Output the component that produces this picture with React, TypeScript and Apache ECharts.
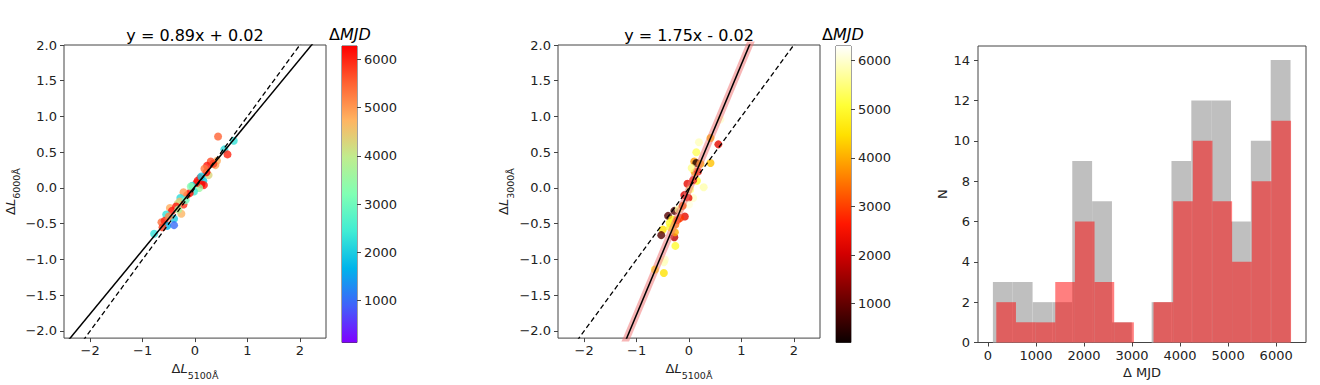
import React, { useEffect, useRef } from "react";
import * as echarts from "echarts";

// ---------- data ----------
// panel 1: [ΔL5100, ΔL6000, ΔMJD]
const scatter1: number[][] = [
  [0.44, 0.72, 5500], [0.74, 0.66, 2300], [0.56, 0.54, 2200], [0.62, 0.47, 6000],
  [0.42, 0.38, 4800], [0.39, 0.32, 4900], [0.30, 0.37, 5700], [0.23, 0.31, 6100],
  [0.26, 0.18, 4300], [0.22, 0.22, 6200], [0.10, 0.14, 6200], [0.16, 0.10, 2000],
  [0.17, 0.04, 6100], [0.12, 0.05, 6250], [0.08, 0.00, 3500], [0.03, 0.07, 6000],
  [-0.05, 0.03, 2100], [-0.02, -0.05, 2400], [-0.10, -0.07, 6200], [-0.15, -0.10, 6000],
  [-0.22, -0.06, 5000], [-0.28, -0.14, 2200], [-0.29, -0.19, 4600], [-0.22, -0.23, 5900],
  [-0.33, -0.22, 4200], [-0.48, -0.28, 4800], [-0.44, -0.32, 6100], [-0.55, -0.37, 2300],
  [-0.26, -0.36, 4700], [-0.40, -0.43, 2000], [-0.64, -0.48, 5400], [-0.58, -0.46, 6000],
  [-0.53, -0.53, 1700], [-0.40, -0.52, 1000], [-0.78, -0.64, 2300], [-0.62, -0.55, 5800],
  [-0.36, -0.26, 6100], [-0.18, -0.17, 3000], [0.05, 0.10, 6100], [0.18, 0.27, 5300],
  [-0.08, 0.02, 3300], [0.35, 0.34, 5800], [-0.50, -0.40, 5200], [0.12, 0.16, 2000],
  [-0.32, -0.30, 3800],
];
// panel 2: [ΔL5100, ΔL3000, ΔMJD]
const scatter2: number[][] = [
  [0.60, 0.96, 6000], [0.41, 0.70, 4200], [0.56, 0.61, 2300], [0.19, 0.64, 5900],
  [0.14, 0.50, 5300], [0.41, 0.35, 4200], [0.10, 0.37, 3800], [0.14, 0.35, 300],
  [0.22, 0.34, 4000], [0.11, 0.22, 4200], [0.17, 0.23, 2400], [0.15, 0.10, 5000],
  [0.08, 0.11, 2300], [0.28, 0.01, 5800], [-0.03, 0.06, 2300], [0.08, -0.14, 6000],
  [-0.01, -0.14, 2300], [-0.09, -0.10, 2100], [0.00, -0.23, 6100], [-0.28, -0.32, 800],
  [-0.40, -0.39, 900], [-0.08, -0.40, 2300], [-0.17, -0.42, 2900], [-0.32, -0.44, 4800],
  [-0.26, -0.51, 3600], [-0.37, -0.49, 5000], [-0.36, -0.55, 5000], [-0.50, -0.58, 4500],
  [-0.53, -0.66, 900], [-0.28, -0.69, 1800], [-0.27, -0.62, 4000], [-0.26, -0.81, 5000],
  [-0.46, -1.00, 6000], [-0.48, -1.04, 5900], [-0.65, -1.14, 4700], [-0.48, -1.19, 4500],
  [-0.20, -0.30, 5700], [-0.12, -0.25, 3300], [0.05, 0.28, 5600], [-0.22, -0.45, 3000],
  [0.02, -0.02, 5500],
];
const fit1 = [0.89, 0.02]; // slope, intercept
const fit2 = [1.75, -0.02];
const lineXs = [-2.5, 2.5];
const scatterYTicks = [-2, -1.5, -1, -0.5, 0, 0.5, 1, 1.5, 2];
const scatterXTicks = [-2, -1, 0, 1, 2];
const cbTicks = [1000, 2000, 3000, 4000, 5000, 6000];
const cb1Range = [130, 6280];
const cb2Range = [200, 6300];

// histogram bins
const greyEdges = [104, 517, 930, 1343, 1756, 2169, 2582, 2995, 3408, 3821, 4234, 4647, 5060, 5473, 5886, 6299];
const greyCounts = [3, 3, 2, 2, 9, 7, 1, 0, 2, 9, 12, 12, 6, 10, 14];
const redEdges = [175, 584, 993, 1402, 1811, 2220, 2629, 3038, 3447, 3856, 4265, 4674, 5083, 5492, 5901, 6310];
const redCounts = [2, 1, 1, 3, 6, 3, 1, 0, 2, 7, 10, 7, 4, 8, 11];
const histXTicks = [0, 1000, 2000, 3000, 4000, 5000, 6000];
const histYTicks = [0, 2, 4, 6, 8, 10, 12, 14];

// colormaps
const rainbow = ["#8000ff", "#4062fa", "#00b4eb", "#40ecd4", "#80ffb4", "#c0ec8e", "#ffb462", "#ff6232", "#ff0000"];
const hot = ["#0b0000", "#4e0000", "#910000", "#d30000", "#ff1700", "#ff5a00", "#ff9d00", "#ffe000", "#ffff36", "#ffff9b", "#ffffff"];

const FONT = "DejaVu Sans";
const TXT = "#222";
const FRAME = "#444";

const minus = (s: string) => s.replace("-", "\u2212");
const plain = (v: number) => String(v);

export default function App() {
  const ref = useRef<HTMLDivElement>(null);
  useEffect(() => {
    if (!ref.current) return;
    const chart = echarts.init(ref.current, null, { renderer: "svg" });

    const gridBase = { show: true, borderColor: FRAME, borderWidth: 1, backgroundColor: "transparent", containLabel: false };
    const grids = [
      { ...gridBase, left: 64, top: 45, width: 262, height: 297.5 },
      { ...gridBase, left: 342, top: 46, width: 15, height: 296.5 },
      { ...gridBase, left: 558, top: 45, width: 262, height: 297.5 },
      { ...gridBase, left: 836, top: 46, width: 15, height: 296.5 },
      { ...gridBase, left: 978, top: 46, width: 328, height: 296.5 },
    ];

    const tick = { show: true, inside: false, length: 4, lineStyle: { color: FRAME, width: 1 } };
    const lab = { color: TXT, fontFamily: FONT, fontSize: 13 };
    const subRich = {
      d: { fontFamily: FONT, fontSize: 13, color: TXT, lineHeight: 18, verticalAlign: "top" as const },
      l: { fontFamily: FONT, fontSize: 13, color: TXT, fontStyle: "italic" as const, lineHeight: 18, verticalAlign: "top" as const },
      s: { fontFamily: FONT, fontSize: 9.5, color: TXT, lineHeight: 18, verticalAlign: "bottom" as const },
    };

    const scatterX = (gi: number) => ({
      type: "value", gridIndex: gi, min: -2.5, max: 2.5,
      axisLine: { show: false, onZero: false },
      axisTick: { ...tick, customValues: scatterXTicks },
      axisLabel: { ...lab, margin: 6, customValues: scatterXTicks, formatter: (v: number) => minus(String(v)) },
      splitLine: { show: false },
      name: "{d|Δ}{l|L}{s|5100Å}", nameLocation: "middle", nameGap: 21,
      nameTextStyle: { rich: subRich },
    });
    const scatterY = (gi: number, sub: string, gap: number) => ({
      type: "value", gridIndex: gi, min: -2.1, max: 2.0,
      axisLine: { show: false, onZero: false },
      axisTick: { ...tick, customValues: scatterYTicks },
      axisLabel: { ...lab, margin: 7, customValues: scatterYTicks, formatter: (v: number) => minus(v.toFixed(1)) },
      splitLine: { show: false },
      name: "{d|Δ}{l|L}{s|" + sub + "}", nameLocation: "middle", nameGap: gap, nameRotate: 90,
      nameTextStyle: { rich: subRich },
    });
    const cbX = (gi: number) => ({ type: "value", gridIndex: gi, min: 0, max: 1, show: false });
    const cbY = (gi: number, r: number[]) => ({
      type: "value", gridIndex: gi, min: r[0], max: r[1], position: "right",
      axisLine: { show: false, onZero: false },
      axisTick: { ...tick, customValues: cbTicks },
      axisLabel: { ...lab, margin: 7, customValues: cbTicks, formatter: plain },
      splitLine: { show: false },
    });

    const lineData = (fit: number[]) => lineXs.map((x) => [x, fit[0] * x + fit[1]]);

    const cbRender = (stops: string[]) => (params: any, api: any) => {
      const p0 = api.coord([0, api.value(1)]);
      const p1 = api.coord([1, api.value(2)]);
      return {
        type: "rect",
        shape: { x: p0[0], y: p1[1], width: p1[0] - p0[0], height: p0[1] - p1[1] },
        style: {
          fill: new echarts.graphic.LinearGradient(0, 1, 0, 0,
            stops.map((c, i) => ({ offset: i / (stops.length - 1), color: c }))),
        },
      };
    };
    const histRender = (fill: string) => (params: any, api: any) => {
      const p0 = api.coord([api.value(0), 0]);
      const p1 = api.coord([api.value(1), api.value(2)]);
      return {
        type: "rect",
        shape: { x: p0[0], y: p1[1], width: p1[0] - p0[0], height: p0[1] - p1[1] },
        style: { fill },
      };
    };
    const histData = (edges: number[], counts: number[]) =>
      counts.map((c, i) => [edges[i], edges[i + 1], c]).filter((d) => d[2] > 0);

    chart.setOption({
      animation: false,
      backgroundColor: "#fff",
      textStyle: { fontFamily: FONT },
      grid: grids,
      xAxis: [
        scatterX(0),
        cbX(1),
        scatterX(2),
        cbX(3),
        {
          type: "value", gridIndex: 4, min: -206, max: 6621,
          axisLine: { show: false, onZero: false },
          axisTick: { ...tick, customValues: histXTicks },
          axisLabel: { ...lab, margin: 6, customValues: histXTicks, formatter: plain },
          splitLine: { show: false },
          name: "Δ MJD", nameLocation: "middle", nameGap: 22,
          nameTextStyle: { fontFamily: FONT, fontSize: 13, color: TXT },
        },
      ],
      yAxis: [
        scatterY(0, "6000Å", 41),
        cbY(1, cb1Range),
        scatterY(2, "3000Å", 43),
        cbY(3, cb2Range),
        {
          type: "value", gridIndex: 4, min: 0, max: 14.7,
          axisLine: { show: false, onZero: false },
          axisTick: { ...tick, customValues: histYTicks },
          axisLabel: { ...lab, margin: 8, customValues: histYTicks, formatter: plain },
          splitLine: { show: false },
          name: "N", nameLocation: "middle", nameGap: 29, nameRotate: 90,
          nameTextStyle: { fontFamily: FONT, fontSize: 13, color: TXT },
        },
      ],
      visualMap: [
        { type: "continuous", show: false, seriesIndex: 0, dimension: 2, min: cb1Range[0], max: cb1Range[1], inRange: { color: rainbow } },
        { type: "continuous", show: false, seriesIndex: 4, dimension: 2, min: cb2Range[0], max: cb2Range[1], inRange: { color: hot } },
      ],
      series: [
        { type: "scatter", xAxisIndex: 0, yAxisIndex: 0, data: scatter1, symbolSize: 8, itemStyle: { opacity: 0.8 } },
        { type: "line", xAxisIndex: 0, yAxisIndex: 0, data: lineData([1, 0]), showSymbol: false, clip: true,
          lineStyle: { color: "#000", width: 1.3, type: [5, 3] } },
        { type: "line", xAxisIndex: 0, yAxisIndex: 0, data: lineData(fit1), showSymbol: false, clip: true,
          lineStyle: { color: "#000", width: 1.5 } },
        { type: "custom", xAxisIndex: 1, yAxisIndex: 1, data: [[0, cb1Range[0], cb1Range[1]]],
          encode: { x: [0], y: [1, 2] }, renderItem: cbRender(rainbow), silent: true },
        { type: "scatter", xAxisIndex: 2, yAxisIndex: 2, data: scatter2, symbolSize: 8, itemStyle: { opacity: 0.8 } },
        { type: "line", xAxisIndex: 2, yAxisIndex: 2, data: lineData(fit2), showSymbol: false, clip: true,
          lineStyle: { color: "rgba(240,110,110,0.5)", width: 7 } },
        { type: "line", xAxisIndex: 2, yAxisIndex: 2, data: lineData([1, 0]), showSymbol: false, clip: true,
          lineStyle: { color: "#000", width: 1.3, type: [5, 3] } },
        { type: "line", xAxisIndex: 2, yAxisIndex: 2, data: lineData(fit2), showSymbol: false, clip: true,
          lineStyle: { color: "#000", width: 1.5 } },
        { type: "custom", xAxisIndex: 3, yAxisIndex: 3, data: [[0, cb2Range[0], cb2Range[1]]],
          encode: { x: [0], y: [1, 2] }, renderItem: cbRender(hot), silent: true },
        { type: "custom", xAxisIndex: 4, yAxisIndex: 4, data: histData(greyEdges, greyCounts),
          encode: { x: [0, 1], y: [2] }, renderItem: histRender("#bfbfbf"), silent: true },
        { type: "custom", xAxisIndex: 4, yAxisIndex: 4, data: histData(redEdges, redCounts),
          encode: { x: [0, 1], y: [2] }, renderItem: histRender("rgba(255,0,0,0.5)"), silent: true },
      ],
      graphic: [
        { type: "text", x: 195, y: 35, style: { text: "y = 0.89x + 0.02", fontFamily: FONT, fontSize: 16, fill: "#000", align: "center", verticalAlign: "middle" } },
        { type: "text", x: 689, y: 35, style: { text: "y = 1.75x - 0.02", fontFamily: FONT, fontSize: 16, fill: "#000", align: "center", verticalAlign: "middle" } },
        { type: "text", x: 350, y: 34, style: { text: "{a|Δ}{b|MJD}", align: "center", verticalAlign: "middle",
          rich: { a: { fontFamily: FONT, fontSize: 16, fill: "#000" }, b: { fontFamily: FONT, fontSize: 16, fontStyle: "italic", fill: "#000" } } } },
        { type: "text", x: 843, y: 34, style: { text: "{a|Δ}{b|MJD}", align: "center", verticalAlign: "middle",
          rich: { a: { fontFamily: FONT, fontSize: 16, fill: "#000" }, b: { fontFamily: FONT, fontSize: 16, fontStyle: "italic", fill: "#000" } } } },
      ],
    });
    return () => chart.dispose();
  }, []);
  return (
    <div
      ref={ref}
      style={{ position: "absolute", left: 0, top: 0, width: 1320, height: 385, background: "#fff" }}
    />
  );
}
